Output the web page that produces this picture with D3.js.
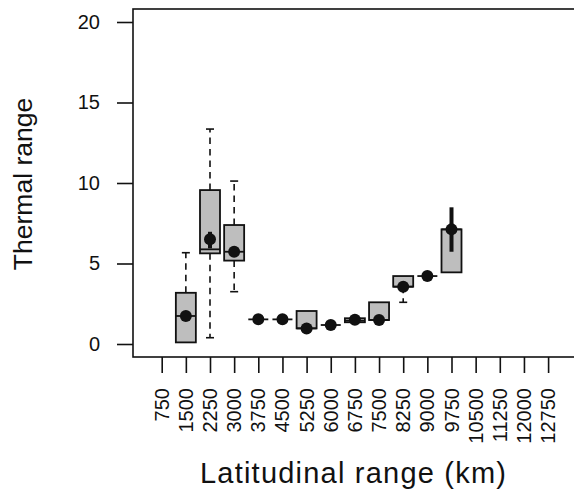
<!DOCTYPE html>
<html>
<head>
<meta charset="utf-8">
<script src="https://cdn.jsdelivr.net/npm/d3@7"></script>
<style>
  html, body { margin: 0; padding: 0; background: #fff; }
  svg { display: block; }
  text { font-family: "Liberation Sans", Arial, Helvetica, sans-serif; fill: #111; }
</style>
</head>
<body>
<svg id="chart" width="574" height="493"></svg>
<script>
// Tick labels of the x axis (latitudinal range, km)
const xTicks = ["750","1500","2250","3000","3750","4500","5250","6000","6750","7500","8250","9000","9750","10500","11250","12000","12750"];
const yTicks = [0, 5, 10, 15, 20];

// Box-plot summaries per category (thermal range)
const cats      = ["1500","2250","3000","3750","4500","5250","6000","6750","7500","8250","9000","9750"];
const q1        = [0.10, 5.63, 5.18, 1.53, 1.53, 0.97, 1.18, 1.35, 1.49, 3.56, 4.22, 4.45];
const medians   = [1.74, 5.88, 5.73, 1.53, 1.53, 0.97, 1.18, 1.45, 1.49, 3.56, 4.22, 7.12];
const q3        = [3.18, 9.56, 7.39, 1.53, 1.53, 2.05, 1.18, 1.60, 2.59, 4.22, 4.22, 7.12];
const whiskLo   = [0.10, 0.39, 3.25, 1.53, 1.53, 0.97, 1.18, 1.35, 1.49, 2.59, 4.22, 4.45];
const whiskHi   = [5.67, 13.35, 10.12, 1.53, 1.53, 2.05, 1.18, 1.60, 2.59, 4.22, 4.22, 7.12];
const means     = [1.74, 6.50, 5.73, 1.53, 1.53, 0.97, 1.18, 1.50, 1.49, 3.56, 4.22, 7.12];
const errLo     = [1.55, 5.94, 5.55, 1.53, 1.53, 0.97, 1.18, 1.40, 1.49, 3.56, 4.22, 5.73];
const errHi     = [1.95, 6.97, 5.95, 1.53, 1.53, 0.97, 1.18, 1.62, 1.49, 3.56, 4.22, 8.49];

const svg = d3.select("#chart");

const plotLeft = 133, plotTop = 9, plotBottom = 357;
const x = d3.scalePoint().domain(xTicks).range([161.7, 548.1]);
const y = d3.scaleLinear().domain([0, 20]).range([344, 22]);
const boxW = 20;

// plot frame (extends beyond right edge as in reference)
svg.append("rect")
  .attr("x", plotLeft).attr("y", plotTop)
  .attr("width", 600 - plotLeft).attr("height", plotBottom - plotTop)
  .attr("fill", "none").attr("stroke", "#111").attr("stroke-width", 1.6);

// y axis
const yAxis = svg.append("g")
  .attr("transform", `translate(${plotLeft},0)`)
  .call(d3.axisLeft(y).tickValues(yTicks).tickSize(16).tickPadding(17));
yAxis.select(".domain").remove();
yAxis.selectAll("line").attr("stroke", "#111").attr("stroke-width", 1.6);
yAxis.selectAll("text").attr("font-size", 20).style("font-family", "Liberation Sans, Arial, sans-serif").attr("fill", "#111");

// x axis
const xAxis = svg.append("g")
  .attr("transform", `translate(0,${plotBottom})`)
  .call(d3.axisBottom(x).tickSize(16).tickFormat(""));
xAxis.select(".domain").remove();
xAxis.selectAll("line").attr("stroke", "#111").attr("stroke-width", 1.6);

svg.append("g").selectAll("text").data(xTicks).join("text")
  .attr("transform", d => `translate(${x(d)},388) rotate(-90)`)
  .attr("text-anchor", "end")
  .attr("dy", "0.35em")
  .attr("font-size", 20)
  .text(d => d);

// axis titles
svg.append("text")
  .attr("transform", "translate(32,184) rotate(-90)")
  .attr("text-anchor", "middle")
  .attr("font-size", 26.5)
  .text("Thermal range");

svg.append("text")
  .attr("x", 353).attr("y", 483)
  .attr("text-anchor", "middle")
  .attr("font-size", 29)
  .attr("textLength", 306)
  .attr("lengthAdjust", "spacing")
  .text("Latitudinal range (km)");

// boxes
const data = cats.map((c, i) => ({
  c, q1: q1[i], med: medians[i], q3: q3[i], lo: whiskLo[i], hi: whiskHi[i],
  mean: means[i], eLo: errLo[i], eHi: errHi[i]
}));

const g = svg.append("g");
data.forEach(d => {
  const cx = x(d.c);
  if (d.hi > d.q3) {
    g.append("line").attr("x1", cx).attr("x2", cx).attr("y1", y(d.q3)).attr("y2", y(d.hi))
      .attr("stroke", "#111").attr("stroke-width", 1.6).attr("stroke-dasharray", "6.5,5");
    g.append("line").attr("x1", cx - 4).attr("x2", cx + 4).attr("y1", y(d.hi)).attr("y2", y(d.hi))
      .attr("stroke", "#111").attr("stroke-width", 1.6);
  }
  if (d.lo < d.q1) {
    g.append("line").attr("x1", cx).attr("x2", cx).attr("y1", y(d.q1)).attr("y2", y(d.lo))
      .attr("stroke", "#111").attr("stroke-width", 1.6).attr("stroke-dasharray", "6.5,5");
    g.append("line").attr("x1", cx - 4).attr("x2", cx + 4).attr("y1", y(d.lo)).attr("y2", y(d.lo))
      .attr("stroke", "#111").attr("stroke-width", 1.6);
  }
  if (d.q3 > d.q1) {
    g.append("rect").attr("x", cx - boxW / 2).attr("y", y(d.q3))
      .attr("width", boxW).attr("height", y(d.q1) - y(d.q3))
      .attr("fill", "#bebebe").attr("stroke", "#111").attr("stroke-width", 1.8);
  }
  g.append("line").attr("x1", cx - boxW / 2).attr("x2", cx + boxW / 2)
    .attr("y1", y(d.med)).attr("y2", y(d.med))
    .attr("stroke", "#111").attr("stroke-width", 1.8);
  if (d.eHi > d.eLo) {
    g.append("line").attr("x1", cx).attr("x2", cx).attr("y1", y(d.eLo)).attr("y2", y(d.eHi))
      .attr("stroke", "#111").attr("stroke-width", 4);
  }
  g.append("circle").attr("cx", cx).attr("cy", y(d.mean)).attr("r", 6).attr("fill", "#111");
});
</script>
</body>
</html>
